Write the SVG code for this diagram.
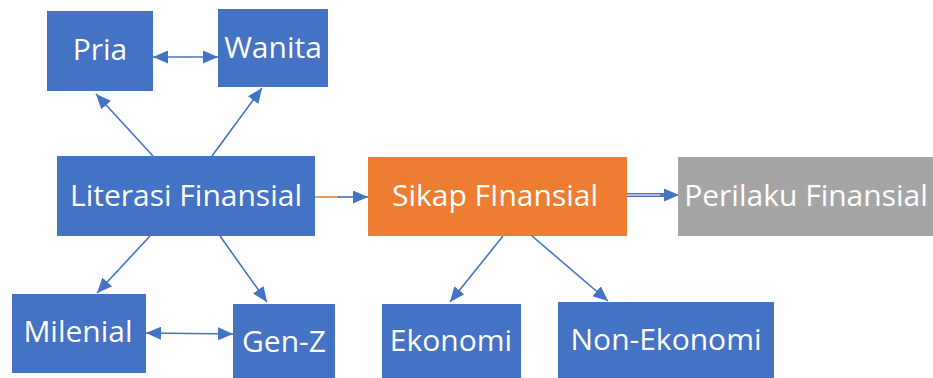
<svg xmlns="http://www.w3.org/2000/svg" width="933" height="378" viewBox="0 0 933 378">
<style>
.blue{fill:#4472C4}
.orange{fill:#ED7D31}
.gray{fill:#A5A5A5}
text{font-family:"Open Sans","Segoe UI","Liberation Sans",sans-serif;font-size:30px;fill:#ffffff;text-anchor:middle;dominant-baseline:central}
.c{stroke:#4472C4;stroke-width:1.6;fill:none}
</style>
<defs>
<marker id="ah" viewBox="0 0 15 13" refX="15" refY="6.5" markerWidth="15" markerHeight="13" markerUnits="userSpaceOnUse" orient="auto-start-reverse">
<path d="M0,0 L15,6.5 L0,13 Z" fill="#4472C4"/>
</marker>
</defs>
<rect width="933" height="378" fill="#ffffff"/>
<g id="connectors">
<line class="c" x1="153" y1="57" x2="218" y2="57" marker-start="url(#ah)" marker-end="url(#ah)"/>
<line class="c" x1="153" y1="156" x2="96" y2="94" marker-end="url(#ah)"/>
<line class="c" x1="212" y1="156" x2="262" y2="88" marker-end="url(#ah)"/>
<line class="c" x1="150" y1="236" x2="97" y2="293" marker-end="url(#ah)"/>
<line class="c" x1="220" y1="236" x2="267" y2="302" marker-end="url(#ah)"/>
<line class="c" x1="146" y1="333" x2="233" y2="334" marker-start="url(#ah)" marker-end="url(#ah)"/>
<line x1="315" y1="197" x2="340" y2="197" stroke="#ED7D31" stroke-width="1.6"/>
<line class="c" x1="338" y1="197" x2="368" y2="197" marker-end="url(#ah)"/>
<line x1="627" y1="195" x2="665" y2="195" stroke="#4472C4" stroke-width="4"/>
<line x1="627" y1="195" x2="665" y2="195" stroke="#d9d9d9" stroke-width="1.3"/>
<line class="c" x1="660" y1="195" x2="679" y2="195" marker-end="url(#ah)"/>
<line class="c" x1="503" y1="236" x2="450" y2="302" marker-end="url(#ah)"/>
<line class="c" x1="532" y1="236" x2="608" y2="301" marker-end="url(#ah)"/>
</g>
<g id="pria"><rect class="blue" x="47" y="11" width="106" height="80"/><text x="100" y="48">Pria</text></g>
<g id="wanita"><rect class="blue" x="218" y="9" width="110" height="78"/><text x="273" y="46">Wanita</text></g>
<g id="literasi"><rect class="blue" x="57" y="156" width="258" height="80"/><text x="186" y="194">Literasi Finansial</text></g>
<g id="sikap"><rect class="orange" x="368" y="157" width="259" height="79"/><text x="495" y="194">Sikap FInansial</text></g>
<g id="perilaku"><rect class="gray" x="678" y="157" width="260" height="79"/><text x="806" y="194">Perilaku Finansial</text></g>
<g id="milenial"><rect class="blue" x="12" y="294" width="134" height="79"/><text x="78" y="330">Milenial</text></g>
<g id="genz"><rect class="blue" x="233" y="304" width="102" height="76"/><text x="284" y="340">Gen-Z</text></g>
<g id="ekonomi"><rect class="blue" x="382" y="304" width="139" height="76"/><text x="451" y="339">Ekonomi</text></g>
<g id="nonekonomi"><rect class="blue" x="558" y="302" width="216" height="78"/><text x="666" y="338">Non-Ekonomi</text></g>
</svg>
